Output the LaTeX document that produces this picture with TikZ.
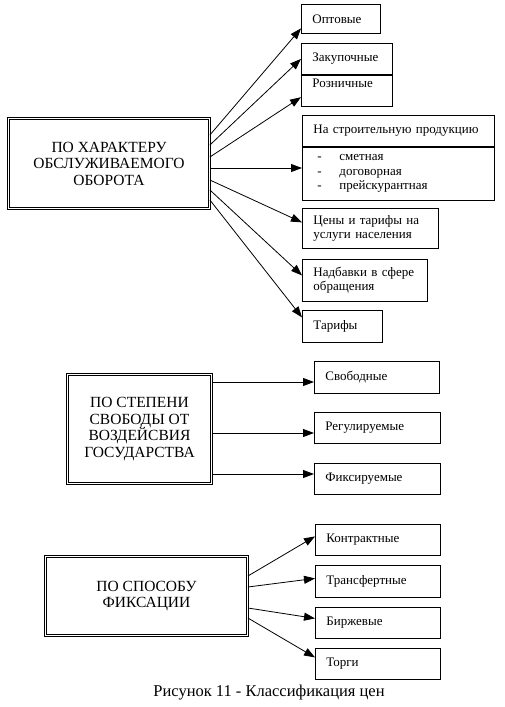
\documentclass[tikz,border=0pt]{standalone}
\usepackage{fontspec}
\setmainfont{Liberation Serif}
\usetikzlibrary{positioning, arrows.meta}

\begin{document}
\begin{tikzpicture}[x=1pt, y=-1pt,
  box/.style={draw, line width=0.8pt, anchor=north west, align=left,
    inner xsep=11pt, inner ysep=0pt, font=\fontsize{13}{14.5}\selectfont},
  mainbox/.style={draw, double, line width=0.8pt, double distance=1.5pt,
    align=center, font=\fontsize{15.5}{16.5}\selectfont},
  arr/.style={-{Triangle[length=11pt, width=8pt]}, line width=0.8pt}]
\useasboundingbox (0,0) rectangle (505,707);

% first group
\node[mainbox, minimum width=201pt, minimum height=90pt] (char) at (109,163.5)
  {ПО ХАРАКТЕРУ\\ОБСЛУЖИВАЕМОГО\\ОБОРОТА};
\node[box, text width=57pt, minimum height=29pt] (opt) at (301,4) {Оптовые};
\node[box, text width=69pt, minimum height=31pt] (zak) at (301,43) {Закупочные};
\node[box, text width=69pt, minimum height=31pt, below=0pt of zak] (rozn)
  {Розничные\\\mbox{}};
\node[box, text width=170pt, minimum height=31pt] (sthead) at (302,115)
  {На строительную продукцию};
\node[box, text width=170pt, minimum height=53pt, below=0pt of sthead] (stlist)
  {\hspace*{4pt}\makebox[22pt][l]{-}сметная\\
   \hspace*{4pt}\makebox[22pt][l]{-}договорная\\
   \hspace*{4pt}\makebox[22pt][l]{-}прейскурантная};
\node[box, text width=114pt, minimum height=40pt] (ceny) at (302,208)
  {Цены и тарифы на\\услуги населения};
\node[box, text width=103pt, minimum height=42pt] (nadb) at (302,259)
  {Надбавки в сфере\\обращения};
\node[box, text width=58pt, minimum height=32pt] (tar) at (302,310) {Тарифы};

\draw[arr] ([yshift=28.5pt]char.east) -- ([yshift=-9.5pt]opt.west);
\draw[arr] ([yshift=18.5pt]char.east) -- (zak.west);
\draw[arr] ([yshift=6.5pt]char.east) -- ([yshift=-6.5pt]rozn.west);
\draw[arr] ([yshift=-4.5pt]char.east) -- ([yshift=-4.5pt]char.east -| stlist.west);
\draw[arr] ([yshift=-16.5pt]char.east) -- ([yshift=6pt]ceny.west);
\draw[arr] ([yshift=-26.5pt]char.east) -- ([yshift=5pt]nadb.west);
\draw[arr] ([yshift=-36.5pt]char.east) -- ([yshift=9pt]tar.west);

% second group
\node[mainbox, minimum width=144pt, minimum height=109pt] (deg) at (139.5,429)
  {ПО СТЕПЕНИ\\СВОБОДЫ ОТ\\ВОЗДЕЙСВИЯ\\ГОСУДАРСТВА};
\node[box, text width=103pt, minimum height=32pt] (svob) at (314,361) {Свободные};
\node[box, text width=104pt, minimum height=31pt] (reg) at (314,412) {Регулируемые};
\node[box, text width=104pt, minimum height=31pt] (fix) at (314,463) {Фиксируемые};

\draw[arr] ([yshift=47pt]deg.east) -- ([yshift=47pt]deg.east -| svob.west);
\draw[arr] ([yshift=-4pt]deg.east) -- ([yshift=-4pt]deg.east -| reg.west);
\draw[arr] ([yshift=-45pt]deg.east) -- ([yshift=-45pt]deg.east -| fix.west);

% third group
\node[mainbox, minimum width=202pt, minimum height=79pt] (way) at (146.5,596)
  {ПО СПОСОБУ\\ФИКСАЦИИ};
\node[box, text width=103pt, minimum height=31pt] (kontr) at (315,524) {Контрактные};
\node[box, text width=103pt, minimum height=32pt] (trans) at (315,565) {Трансфертные};
\node[box, text width=103pt, minimum height=31pt] (birzh) at (315,607) {Биржевые};
\node[box, text width=103pt, minimum height=31pt] (torgi) at (315,648) {Торги};

\draw[arr] ([yshift=20pt]way.east) -- ([yshift=3.5pt]kontr.west);
\draw[arr] ([yshift=9pt]way.east) -- ([yshift=3pt]trans.west);
\draw[arr] ([yshift=-12pt]way.east) -- ([yshift=4.5pt]birzh.west);
\draw[arr] ([yshift=-22pt]way.east) -- ([yshift=6.5pt]torgi.west);

\node[font=\fontsize{16.5}{18}\selectfont] (cap) at (269,693)
  {Рисунок 11 - Классификация цен};
\end{tikzpicture}
\end{document}
